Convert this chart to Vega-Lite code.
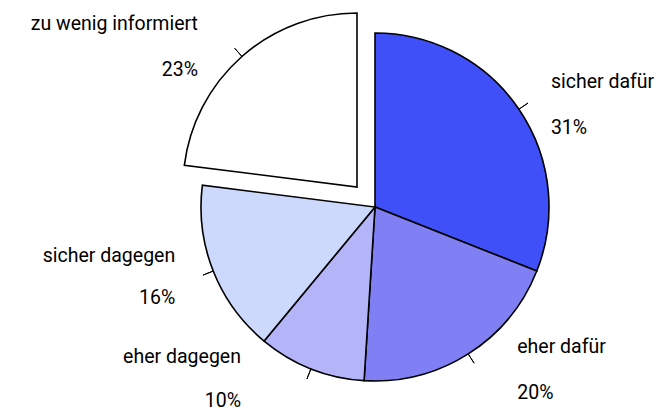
{
  "$schema": "https://vega.github.io/schema/vega-lite/v6.json",
  "width": 584,
  "height": 414,
  "autosize": {"type": "none"},
  "padding": {"left": 83, "right": 0, "top": 0, "bottom": 0},
  "background": "white",
  "config": {"view": {"stroke": null}, "text": {"font": "Roboto", "fontSize": 19.5, "fill": "#000000"}},
  "data": {
    "values": [
      {"label": "sicher dafür", "value": 31, "order": 1},
      {"label": "eher dafür", "value": 20, "order": 2},
      {"label": "eher dagegen", "value": 10, "order": 3},
      {"label": "sicher dagegen", "value": 16, "order": 4},
      {"label": "zu wenig informiert", "value": 23, "order": 5}
    ]
  },
  "transform": [
    {"stack": "value", "groupby": [], "sort": [{"field": "order", "order": "ascending"}], "as": ["v0", "v1"]},
    {"calculate": "(datum.v0 + datum.v1) / 2", "as": "mid"},
    {"calculate": "[datum.label, datum.value + '%']", "as": "lines"}
  ],
  "layer": [
    {
      "transform": [{"filter": "datum.label != 'zu wenig informiert'"}],
      "mark": {"type": "arc", "outerRadius": 174, "stroke": "black", "strokeWidth": 1.6},
      "encoding": {
        "theta": {"field": "v0", "type": "quantitative", "scale": {"domain": [0, 100]}},
        "theta2": {"field": "v1"},
        "color": {
          "field": "label", "type": "nominal", "legend": null,
          "scale": {"domain": ["sicher dafür", "eher dafür", "eher dagegen", "sicher dagegen", "zu wenig informiert"],
                    "range": ["#4050F8", "#8080F4", "#B4B4F8", "#CCD8FC", "#FFFFFF"]}
        }
      }
    },
    {
      "transform": [{"filter": "datum.label == 'zu wenig informiert'"}],
      "mark": {"type": "arc", "outerRadius": 174, "stroke": "black", "strokeWidth": 1.6, "xOffset": -18, "yOffset": -20},
      "encoding": {
        "theta": {"field": "v0", "type": "quantitative", "scale": {"domain": [0, 100]}},
        "theta2": {"field": "v1"},
        "color": {
          "field": "label", "type": "nominal", "legend": null,
          "scale": {"domain": ["sicher dafür", "eher dafür", "eher dagegen", "sicher dagegen", "zu wenig informiert"],
                    "range": ["#4050F8", "#8080F4", "#B4B4F8", "#CCD8FC", "#FFFFFF"]}
        }
      }
    },
    {
      "transform": [{"filter": "datum.label != 'zu wenig informiert'"}],
      "mark": {"type": "arc", "innerRadius": 174, "outerRadius": 185, "stroke": "black", "strokeWidth": 1, "fill": null},
      "encoding": {
        "theta": {"field": "mid", "type": "quantitative", "scale": {"domain": [0, 100]}},
        "theta2": {"field": "mid"}
      }
    },
    {
      "transform": [{"filter": "datum.label == 'zu wenig informiert'"}],
      "mark": {"type": "arc", "innerRadius": 174, "outerRadius": 185, "stroke": "black", "strokeWidth": 1, "fill": null, "xOffset": -18, "yOffset": -20},
      "encoding": {
        "theta": {"field": "mid", "type": "quantitative", "scale": {"domain": [0, 100]}},
        "theta2": {"field": "mid"}
      }
    },
    {
      "transform": [{"filter": "datum.label == 'sicher dafür'"}],
      "mark": {"type": "text", "radius": 174, "align": "left", "baseline": "alphabetic", "dx": 32, "dy": -21, "lineHeight": 46},
      "encoding": {
        "theta": {"field": "mid", "type": "quantitative", "scale": {"domain": [0, 100]}},
        "text": {"field": "lines"}
      }
    },
    {
      "transform": [{"filter": "datum.label == 'eher dafür'"}],
      "mark": {"type": "text", "radius": 174, "align": "left", "baseline": "alphabetic", "dx": 49, "dy": -1, "lineHeight": 46},
      "encoding": {
        "theta": {"field": "mid", "type": "quantitative", "scale": {"domain": [0, 100]}},
        "text": {"field": "lines"}
      }
    },
    {
      "transform": [{"filter": "datum.label == 'eher dagegen'"}],
      "mark": {"type": "text", "radius": 174, "align": "right", "baseline": "alphabetic", "dx": -70, "dy": -6, "lineHeight": 44},
      "encoding": {
        "theta": {"field": "mid", "type": "quantitative", "scale": {"domain": [0, 100]}},
        "text": {"field": "lines"}
      }
    },
    {
      "transform": [{"filter": "datum.label == 'sicher dagegen'"}],
      "mark": {"type": "text", "radius": 174, "align": "right", "baseline": "alphabetic", "dx": -38, "dy": -9, "lineHeight": 42},
      "encoding": {
        "theta": {"field": "mid", "type": "quantitative", "scale": {"domain": [0, 100]}},
        "text": {"field": "lines"}
      }
    },
    {
      "transform": [{"filter": "datum.label == 'zu wenig informiert'"}],
      "mark": {"type": "text", "radius": 174, "align": "right", "baseline": "alphabetic", "dx": -62, "dy": -46, "lineHeight": 46},
      "encoding": {
        "theta": {"field": "mid", "type": "quantitative", "scale": {"domain": [0, 100]}},
        "text": {"field": "lines"}
      }
    }
  ]
}
